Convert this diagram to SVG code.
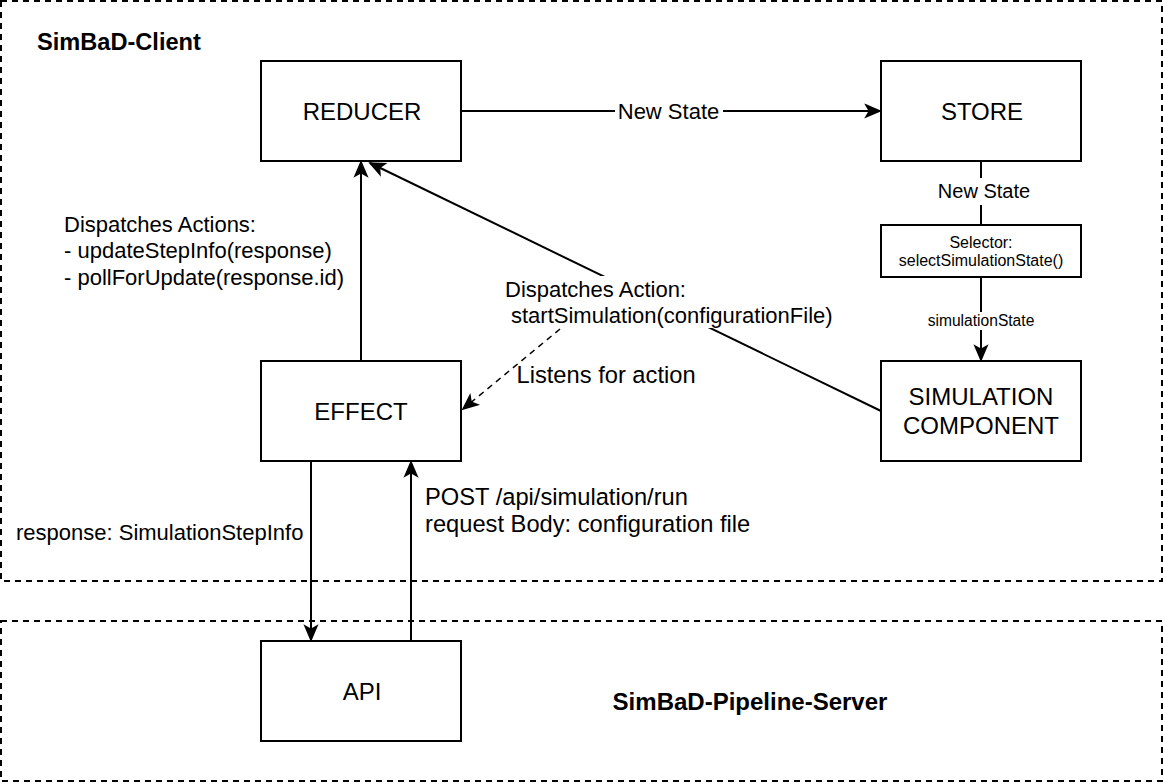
<svg xmlns="http://www.w3.org/2000/svg" width="1164" height="784" viewBox="0 0 1164 784">
<style>
  text { font-family: "Liberation Sans", Arial, sans-serif; fill: #000; }
  .box { fill: #fff; stroke: #000; stroke-width: 2; }
  .container { fill: none; stroke: #000; stroke-width: 2; stroke-dasharray: 6 5; }
  .lbl { font-size: 24px; text-anchor: middle; }
  .title { font-weight: bold; }
  .edge { fill: none; stroke: #000; stroke-width: 2; }
  .dashed { stroke-dasharray: 6 5; stroke-width: 1.5; }
  .elbl { font-size: 22px; }
  .bg { fill: #fff; stroke: none; }
</style>
<defs>
  <marker id="arrow" markerUnits="userSpaceOnUse" viewBox="-2 -9 20 18" markerWidth="20" markerHeight="18" refX="14" refY="0" orient="auto">
    <path d="M0,-6 L14,0 L0,6 L3.5,0 Z" fill="#000" stroke="#000" stroke-width="1.5" stroke-linejoin="miter"/>
  </marker>
</defs>
<rect width="1164" height="784" fill="#fff"/>

<g id="client-container">
  <rect class="container" x="1" y="1" width="1161" height="580"/>
  <text class="title" x="37" y="50" font-size="23.6">SimBaD-Client</text>
</g>
<g id="server-container">
  <rect class="container" x="1" y="621" width="1161" height="160"/>
  <text class="title" x="750" y="709.5" font-size="24" text-anchor="middle">SimBaD-Pipeline-Server</text>
</g>

<g id="connectors">
  <!-- REDUCER -> STORE -->
  <line class="edge" x1="461" y1="111" x2="880" y2="111" marker-end="url(#arrow)"/>
  <rect class="bg" x="615" y="99" width="108" height="24"/>
  <text class="elbl" x="668.5" y="119" text-anchor="middle">New State</text>

  <!-- STORE -> Selector -->
  <line class="edge" x1="981" y1="161" x2="981" y2="225"/>
  <rect class="bg" x="936" y="178" width="96" height="27"/>
  <text x="984" y="198" font-size="20" text-anchor="middle">New State</text>

  <!-- Selector -> SIMULATION COMPONENT -->
  <line class="edge" x1="981" y1="277" x2="981" y2="360" marker-end="url(#arrow)"/>
  <rect class="bg" x="922" y="312" width="118" height="18"/>
  <text x="981" y="326" font-size="15.6" text-anchor="middle">simulationState</text>

  <!-- EFFECT -> REDUCER -->
  <line class="edge" x1="361" y1="361" x2="361" y2="162" marker-end="url(#arrow)"/>
  <text class="elbl" x="64" y="232">Dispatches Actions:</text>
  <text class="elbl" x="64" y="258.4">- updateStepInfo(response)</text>
  <text class="elbl" x="64" y="284.8">- pollForUpdate(response.id)</text>

  <!-- SIMULATION COMPONENT -> REDUCER -->
  <line class="edge" x1="881" y1="411" x2="370" y2="163" marker-end="url(#arrow)"/>
  <rect class="bg" x="500" y="276" width="338" height="52"/>
  <text class="elbl" x="505" y="297">Dispatches Action:</text>
  <text class="elbl" x="511" y="323">startSimulation(configurationFile)</text>

  <!-- Listens for action (dashed) -->
  <line class="edge dashed" x1="560" y1="329" x2="463" y2="409" marker-end="url(#arrow)"/>
  <text x="516.5" y="383" font-size="23.7">Listens for action</text>

  <!-- EFFECT -> API -->
  <line class="edge" x1="311" y1="461" x2="311" y2="640" marker-end="url(#arrow)"/>
  <text class="elbl" x="16" y="540">response: SimulationStepInfo</text>

  <!-- API -> EFFECT -->
  <line class="edge" x1="411" y1="641" x2="411" y2="462" marker-end="url(#arrow)"/>
  <text x="425" y="505" font-size="23.7">POST /api/simulation/run</text>
  <text x="425" y="532" font-size="23.7">request Body: configuration file</text>
</g>

<g id="reducer">
  <rect class="box" x="261" y="61" width="200" height="100"/>
  <text class="lbl" x="362" y="119.5">REDUCER</text>
</g>
<g id="store">
  <rect class="box" x="881" y="61" width="200" height="100"/>
  <text class="lbl" x="982" y="119.5">STORE</text>
</g>
<g id="selector">
  <rect class="box" x="881" y="225" width="200" height="52"/>
  <text x="981" y="248" font-size="16" text-anchor="middle">Selector:</text>
  <text x="981" y="266" font-size="16" text-anchor="middle">selectSimulationState()</text>
</g>
<g id="simulation-component">
  <rect class="box" x="881" y="361" width="200" height="100"/>
  <text class="lbl" x="981" y="405">SIMULATION</text>
  <text class="lbl" x="981" y="434">COMPONENT</text>
</g>
<g id="effect">
  <rect class="box" x="261" y="361" width="200" height="100"/>
  <text class="lbl" x="361" y="419.5">EFFECT</text>
</g>
<g id="api">
  <rect class="box" x="261" y="641" width="200" height="100"/>
  <text class="lbl" x="362" y="699.5">API</text>
</g>
</svg>
